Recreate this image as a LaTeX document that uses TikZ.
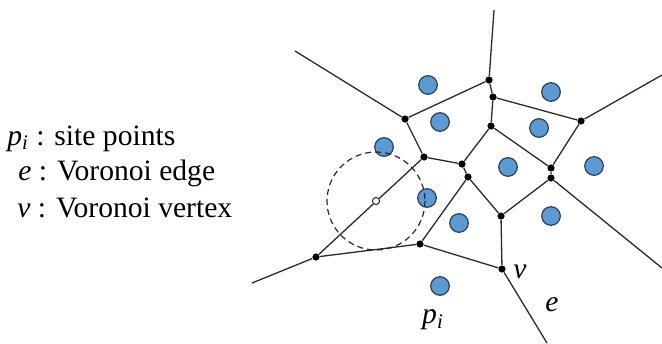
\documentclass[tikz,border=0pt]{standalone}
\usepackage{fontspec}
\setmainfont{Liberation Serif}
\usetikzlibrary{positioning}
\definecolor{siteblue}{HTML}{5B9BD5}
\definecolor{siteline}{HTML}{2F3F50}
\definecolor{edgegray}{HTML}{2A2A2A}

\begin{document}
\begin{tikzpicture}[x=0.5pt,y=-0.5pt,
  vtx/.style={circle,fill=black,inner sep=0pt,minimum size=3.6pt},
  site/.style={circle,fill=siteblue,draw=siteline,line width=0.6pt,inner sep=0pt,minimum size=9.3pt},
  vedge/.style={draw=edgegray,line width=0.65pt},
  lab/.style={font=\fontsize{14.8}{18}\selectfont,inner sep=0pt}]
\useasboundingbox (0,0) rectangle (662,343);

\node[lab,anchor=west] (legp) at (7,139) {\textit{p}\textsubscript{\textit{i}} : site points};
\node[lab,anchor=west] (lege) at (18,173) {\textit{e} : Voronoi edge};
\node[lab,anchor=west] (legv) at (17,208) {\textit{v} : Voronoi vertex};

\node[site] (s1) at (428,85) {};
\node[site] (s2) at (440,122) {};
\node[site] (s3) at (384,147) {};
\node[site] (s4) at (551,92) {};
\node[site] (s5) at (539,128) {};
\node[site] (s6) at (508,167) {};
\node[site] (s7) at (594,166) {};
\node[site] (s8) at (427,198) {};
\node[site] (s9) at (459,223) {};
\node[site] (s10) at (551,216) {};
\node[site] (s11) at (440,286) {};

\draw[edgegray,line width=0.6pt,dash pattern=on 3pt off 2pt] (376,201) circle (49);

\node[vtx] (A) at (405,119) {};
\node[vtx] (B) at (489,80) {};
\node[vtx] (C) at (424,157) {};
\node[vtx] (D) at (462,164) {};
\node[vtx] (E) at (468,177) {};
\node[vtx] (F) at (493,97) {};
\node[vtx] (G) at (581,121) {};
\node[vtx] (H) at (491,126) {};
\node[vtx] (I) at (551,168) {};
\node[vtx] (J) at (551,178) {};
\node[vtx] (K) at (501,216) {};
\node[vtx] (V) at (502,269) {};
\node[vtx] (L) at (420,244) {};
\node[vtx] (M) at (316,257) {};

\coordinate (endA) at (295,51);
\coordinate (endB) at (494,10);
\coordinate (endG) at (662,75);
\coordinate (endJ) at (662,268);
\coordinate (endV) at (547,343);
\coordinate (endM) at (252,283);

\draw[vedge] (endA) -- (A) -- (B) -- (endB);
\draw[vedge] (B) -- (F) -- (G) -- (endG);
\draw[vedge] (F) -- (H) -- (D);
\draw[vedge] (H) -- (I) -- (J);
\draw[vedge] (G) -- (I);
\draw[vedge] (A) -- (C) -- (D) -- (E) -- (K) -- (V) -- (endV);
\draw[vedge] (J) -- (K);
\draw[vedge] (J) -- (endJ);
\draw[vedge] (V) -- (L) -- (M) -- (endM);
\draw[vedge] (E) -- (L);
\draw[vedge] (C) -- (M);

\node[circle,draw=edgegray,fill=white,line width=0.5pt,inner sep=0pt,minimum size=3.6pt] (ctr) at (376,201) {};

\node[lab] (labp) at (433,320) {\textit{p}\textsubscript{\textit{i}}};
\node[lab] (labv) at (520,272) {\textit{v}};
\node[lab] (labe) at (552,305) {\textit{e}};
\end{tikzpicture}
\end{document}
